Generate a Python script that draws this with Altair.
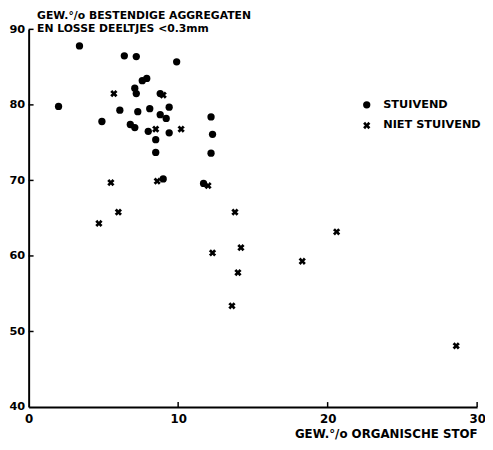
import altair as alt
import pandas as pd

# Data
categories = ["STUIVEND", "NIET STUIVEND"]

stuivend_x = [3.4, 2.0, 6.4, 7.2, 9.9, 7.6, 7.9, 7.1, 7.2, 8.8, 9.4, 6.1, 7.3, 8.1,
              8.8, 9.2, 4.9, 6.8, 7.1, 8.0, 9.4, 8.5, 8.5, 12.2, 12.3, 12.2, 9.0, 11.7]
stuivend_y = [87.8, 79.8, 86.5, 86.4, 85.7, 83.2, 83.5, 82.2, 81.5, 81.5, 79.7, 79.3, 79.1, 79.5,
              78.7, 78.2, 77.8, 77.4, 77.0, 76.5, 76.3, 75.4, 73.7, 78.4, 76.1, 73.6, 70.2, 69.6]

niet_x = [5.7, 9.0, 8.5, 10.2, 5.5, 8.6, 12.0, 4.7, 6.0, 13.8, 20.6, 12.3, 14.2, 18.3,
          14.0, 13.6, 28.6]
niet_y = [81.5, 81.3, 76.8, 76.8, 69.7, 69.9, 69.3, 64.3, 65.8, 65.8, 63.2, 60.4, 61.1, 59.3,
          57.8, 53.4, 48.1]

x_ticks = [0, 10, 20, 30]
y_ticks = [40, 50, 60, 70, 80, 90]
x_inner_ticks = [10, 20, 30]
y_inner_ticks = [50, 60, 70, 80, 90]

df = pd.DataFrame({
    "x": stuivend_x + niet_x,
    "y": stuivend_y + niet_y,
    "groep": [categories[0]] * len(stuivend_x) + [categories[1]] * len(niet_x),
})
ytick_df = pd.DataFrame({"y": y_inner_ticks})
xtick_df = pd.DataFrame({"x": x_inner_ticks})

X_PATH = ("M-1,-0.45L-0.45,-1L0,-0.5L0.45,-1L1,-0.45L0.5,0L1,0.45L0.45,1L0,0.5"
          "L-0.45,1L-1,0.45L-0.5,0Z")

FONT = "DejaVu Sans"
W, H = 456, 384

xscale = alt.Scale(domain=[0, 30], nice=False, zero=False)
yscale = alt.Scale(domain=[40, 90], nice=False, zero=False)

xaxis = alt.Axis(
    values=x_ticks, format="d", title="GEW.°/o ORGANISCHE STOF",
    titleAnchor="end", titleFont=FONT, titleFontSize=12, titleFontWeight="bold",
    titlePadding=4, labelFont=FONT, labelFontSize=12, labelFontWeight="bold",
    labelFlush=False, labelPadding=7, ticks=False, tickSize=0, grid=False,
    domainColor="black", domainWidth=2, labelColor="black", titleColor="black")
yaxis = alt.Axis(
    values=y_ticks, format="d",
    title=["GEW.°/o BESTENDIGE AGGREGATEN", "EN LOSSE DEELTJES <0.3mm"],
    titleAngle=0, titleX=8, titleY=-20, titleAlign="left", titleBaseline="top",
    titleFont=FONT, titleFontSize=11, titleFontWeight="bold", titleLineHeight=13,
    labelFont=FONT, labelFontSize=11.5, labelFontWeight="bold", labelPadding=4,
    ticks=False, tickSize=0, grid=False, domainColor="black", domainWidth=2,
    labelColor="black", titleColor="black")

points = alt.Chart(df).mark_point(filled=True, opacity=1, color="black", size=55).encode(
    x=alt.X("x:Q", scale=xscale, axis=xaxis),
    y=alt.Y("y:Q", scale=yscale, axis=yaxis),
    shape=alt.Shape("groep:N", scale=alt.Scale(domain=categories, range=["circle", X_PATH]),
                    legend=alt.Legend(
                        title=None, orient="none", legendX=338, legendY=71, padding=0,
                        labelFont=FONT, labelFontSize=11.5, labelFontWeight="bold",
                        labelColor="black", labelOffset=11, rowPadding=8,
                        symbolSize=55, symbolFillColor="black", symbolStrokeColor="black",
                        symbolStrokeWidth=0)),
)

ytick_layer = alt.Chart(ytick_df).mark_rule(color="black", strokeWidth=1.5).encode(
    y=alt.Y("y:Q", scale=yscale, axis=yaxis),
    x=alt.value(0), x2=alt.value(5),
)
xtick_layer = alt.Chart(xtick_df).mark_rule(color="black", strokeWidth=1.5).encode(
    x=alt.X("x:Q", scale=xscale, axis=xaxis),
    y=alt.value(H), y2=alt.value(H - 5),
)

chart = alt.layer(points, ytick_layer, xtick_layer).properties(
    width=W, height=H, background="white",
    autosize=alt.AutoSizeParams(type="none"),
    padding={"left": 21, "top": 18, "right": 8, "bottom": 40},
).configure_view(stroke=None)

chart.save("out.html", embed_options={"renderer": "svg", "actions": False})
